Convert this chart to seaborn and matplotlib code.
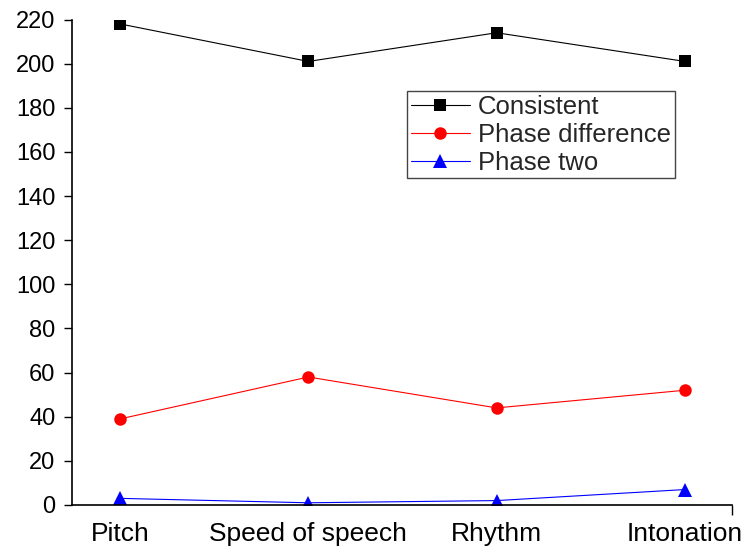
import matplotlib
matplotlib.use("Agg")
import matplotlib.pyplot as plt
import seaborn as sns
import pandas as pd

categories = ["Pitch", "Speed of speech", "Rhythm", "Intonation"]
consistent = [218, 201, 214, 201]
phase_difference = [39, 58, 44, 52]
phase_two = [3, 1, 2, 7]

sns.set_style("ticks")
plt.rcParams['font.family'] = ['Liberation Sans', 'DejaVu Sans']

series = [
    ("Consistent", consistent, "black", "s", 8),
    ("Phase difference", phase_difference, "red", "o", 9),
    ("Phase two", phase_two, "blue", "^", 10),
]

fig = plt.figure(figsize=(7.55, 5.51), dpi=100)
ax = fig.add_axes([0.0954, 0.0835, 0.8741, 0.8811])

pos = list(range(len(categories)))
for name, vals, col, mk, ms in series:
    d = pd.DataFrame({"x": pos, "y": vals})
    sns.lineplot(data=d, x="x", y="y", ax=ax, color=col, marker=mk,
                 markersize=ms, linewidth=0.8, markeredgewidth=0,
                 label=name)

ax.set_xlim(-0.255, 3.25)
ax.set_ylim(0, 220)
ax.set_yticks(range(0, 221, 20))
ax.set_xticks(pos)
ax.set_xticklabels(categories)
ax.set_xticks([3.25], minor=True)
ax.tick_params(axis='x', which='major', length=0, pad=12, labelsize=19,
               labelcolor='black')
ax.tick_params(axis='x', which='minor', length=7, width=1, color='black')
ax.tick_params(axis='y', length=6, width=1, labelsize=17, color='black',
               labelcolor='black', pad=6)
ax.set_xlabel("")
ax.set_ylabel("")
for s in ["top", "right"]:
    ax.spines[s].set_visible(False)
for s in ["left", "bottom"]:
    ax.spines[s].set_linewidth(1.2)
    ax.spines[s].set_color("black")

leg = ax.legend(loc="upper left", bbox_to_anchor=(407 / 755, 1 - 91 / 551),
                bbox_transform=fig.transFigure, borderaxespad=0,
                fontsize=18.5, handlelength=2.3, handletextpad=0.3,
                labelspacing=0.15, borderpad=0.15, fancybox=False,
                framealpha=1, edgecolor="#444444")
leg.get_frame().set_linewidth(1.0)

fig.savefig("out.png", dpi=100)
